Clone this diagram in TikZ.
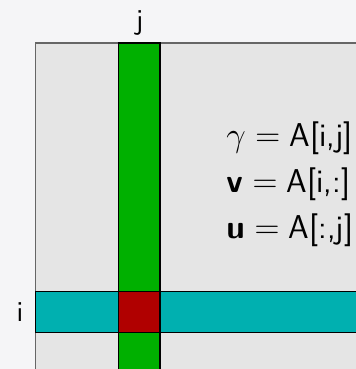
\documentclass[tikz,border=0pt]{standalone}
\usepackage{amsmath}
\usepackage{tikz}
\usetikzlibrary{positioning}
\definecolor{bggray}{RGB}{245,245,247}
\definecolor{matgray}{RGB}{229,229,229}
\definecolor{colgreen}{RGB}{0,176,0}
\definecolor{rowcyan}{RGB}{0,176,176}
\definecolor{elemred}{RGB}{176,0,0}
\tikzstyle{band} = [
    draw=black,
    line width=0.6pt
]
\tikzstyle{idx} = [
    font=\sffamily\Large,
    inner sep=0pt
]

\begin{document}
\begin{tikzpicture}[x=0.5pt, y=0.5pt]
        % Canvas
        \fill[bggray] (0,0) rectangle (356,369);
        \useasboundingbox (0,0) rectangle (356,369);
        \clip (0,0) rectangle (356,369);

        % Matrix A
        \draw[fill=matgray, draw=gray!80!black, line width=0.8pt] (35.5,326) rectangle (362,-5);

        % Column j and row i
        \draw[band, fill=colgreen] (118.5,-5) rectangle (160,326);
        \draw[band, fill=rowcyan] (35.5,36.3) rectangle (362,77.3);
        \draw[band, fill=elemred] (118.5,36.3) rectangle (160,77.3);

        % Index labels
        \node[idx] (jlab) at (139.5,346) {j};
        \node[idx] (ilab) at (20,57) {i};

        % Definitions
        \node[anchor=west, align=left, inner sep=0pt,
              font=\sffamily\fontsize{16.5}{23}\selectfont] (defs) at (226,185)
            {$\gamma = \text{A[i,j]}$\\
             $\text{\bfseries v} = \text{A[i,:]}$\\
             $\text{\bfseries u} = \text{A[:,j]}$};
    \end{tikzpicture}
\end{document}
